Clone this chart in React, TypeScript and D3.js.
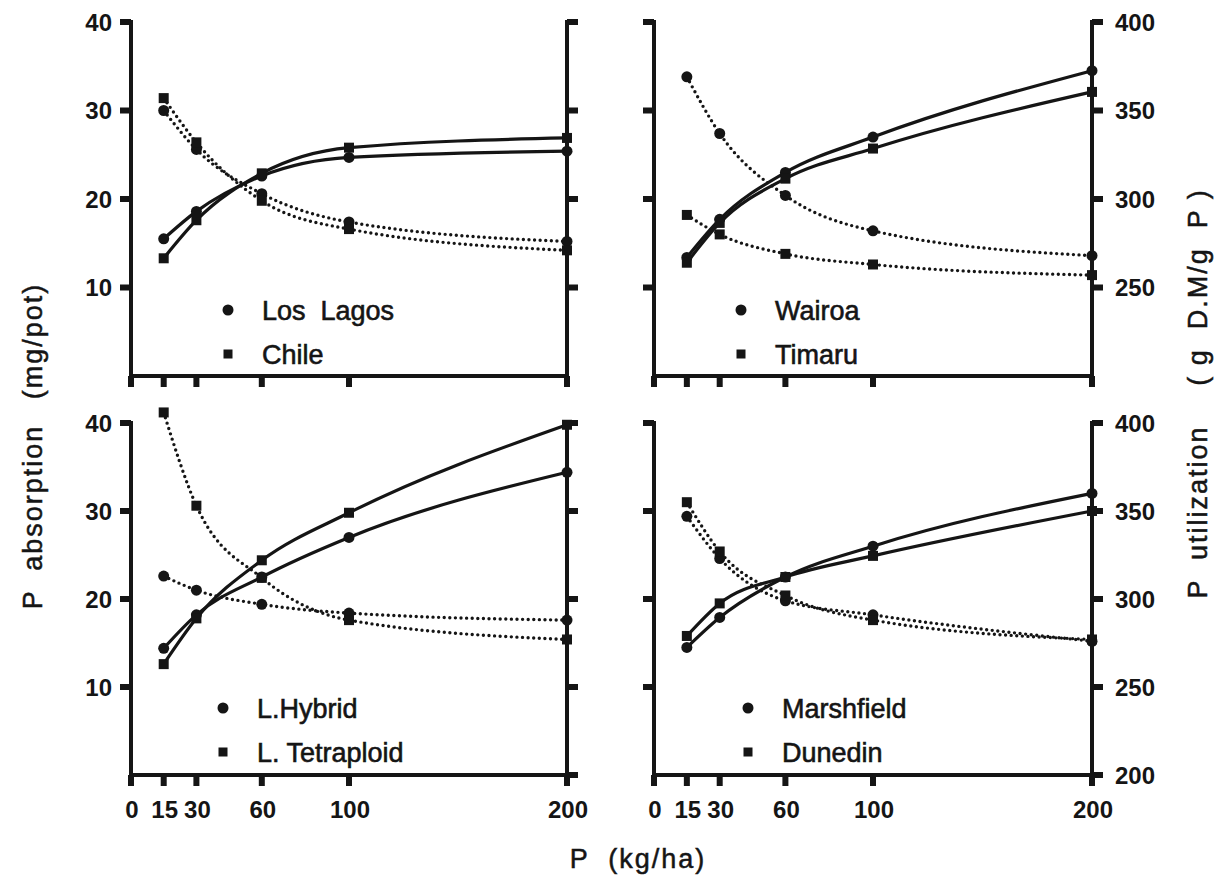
import * as d3 from 'd3';

// P rates applied (kg/ha)
const doses = [15, 30, 60, 100, 200];
const xTicks = [0, 15, 30, 60, 100, 200];
const absTicks = [10, 20, 30, 40];
const utilTicks = [250, 300, 350, 400];
const utilTicksBottom = [200, 250, 300, 350, 400];

// P absorption (mg/pot) - solid lines, left axis
const losLagosAbs = [15.5, 18.6, 22.6, 24.7, 25.4];
const chileAbs = [13.3, 17.6, 22.9, 25.8, 26.9];
const wairoaAbs = [13.4, 17.7, 23.0, 27.0, 34.5];
const timaruAbs = [12.8, 17.3, 22.3, 25.7, 32.1];
const hybridAbs = [14.4, 18.2, 22.5, 27.0, 34.4];
const tetraploidAbs = [12.6, 17.8, 24.4, 29.8, 39.8];
const marshfieldAbs = [14.5, 17.9, 22.5, 26.0, 32.0];
const dunedinAbs = [15.8, 19.5, 22.5, 24.9, 30.0];

// P utilization (g D.M/g P) - dotted lines, right axis
const losLagosUtil = [350, 328, 303, 287, 276];
const chileUtil = [357, 332, 299, 283, 271];
const wairoaUtil = [369, 337, 302, 282, 268];
const timaruUtil = [291, 280, 269, 263, 257];
const hybridUtil = [313, 305, 297, 292, 288];
const tetraploidUtil = [406, 353, 312, 288, 277];
const marshfieldUtil = [347, 323, 299, 291, 276];
const dunedinUtil = [355, 327, 302, 288, 277];

const panelNames = [
  ['Los  Lagos', 'Chile'],
  ['Wairoa', 'Timaru'],
  ['L.Hybrid', 'L. Tetraploid'],
  ['Marshfield', 'Dunedin'],
];

const INK = '#151515';
const FONT = '"Liberation Sans", Arial, sans-serif';

type PanelProps = {
  xr: [number, number];
  yr: [number, number];
  circleAbs: number[];
  squareAbs: number[];
  circleUtil: number[];
  squareUtil: number[];
  names: string[];
  legend: [number, number];
  leftLabels: boolean;
  rightLabels: boolean;
  xLabels: boolean;
  rTicks: number[];
};

function Panel(p: PanelProps) {
  const x = d3.scaleLinear().domain([0, 200]).range(p.xr);
  const yAbs = d3.scaleLinear().domain([0, 40]).range(p.yr);
  const yUtil = d3.scaleLinear().domain([200, 400]).range(p.yr);
  const [x0, x1] = p.xr;
  const [yBot, yTop] = p.yr;

  const absLine = d3.line<number>()
    .x((d, i) => x(doses[i]))
    .y(d => yAbs(d))
    .curve(d3.curveMonotoneX);
  const utilLine = d3.line<number>()
    .x((d, i) => x(doses[i]))
    .y(d => yUtil(d))
    .curve(d3.curveMonotoneX);

  const circles = (vals: number[], y: (v: number) => number) =>
    vals.map((v, i) => <circle key={i} cx={x(doses[i])} cy={y(v)} r={5.5} fill={INK} />);
  const squares = (vals: number[], y: (v: number) => number) =>
    vals.map((v, i) => <rect key={i} x={x(doses[i]) - 5} y={y(v) - 5} width={10} height={10} fill={INK} />);

  const tickText = { fontSize: 24, fontWeight: 'bold', fontFamily: FONT, fill: INK } as const;
  const legendText = {
    fontSize: 27, fontFamily: FONT, fill: INK, stroke: INK, strokeWidth: 0.6,
    style: { whiteSpace: 'pre' as const },
  };

  return (
    <g>
      {/* axes */}
      <line x1={x0} x2={x0} y1={yTop - 2} y2={yBot + 2} stroke={INK} strokeWidth={4} />
      <line x1={x1} x2={x1} y1={yTop - 2} y2={yBot + 2} stroke={INK} strokeWidth={4} />
      <line x1={x0} x2={x1} y1={yBot} y2={yBot} stroke={INK} strokeWidth={4} />
      {absTicks.map(t => (
        <rect key={'l' + t} x={x0 - 11} y={yAbs(t) - 3} width={11} height={6} fill={INK} />
      ))}
      {p.rTicks.map(t => (
        <rect key={'r' + t} x={x1} y={yUtil(t) - 3} width={11} height={6} fill={INK} />
      ))}
      {xTicks.map(t => (
        <rect key={'x' + t} x={x(t) - 3} y={yBot} width={6} height={11} fill={INK} />
      ))}
      {p.leftLabels && absTicks.map(t => (
        <text key={'ll' + t} x={x0 - 19} y={yAbs(t) + 8.5} textAnchor="end" {...tickText}>{t}</text>
      ))}
      {p.rightLabels && p.rTicks.map(t => (
        <text key={'rl' + t} x={x1 + 23} y={yUtil(t) + 8.5} textAnchor="start" {...tickText}>{t}</text>
      ))}
      {p.xLabels && xTicks.map(t => (
        <text key={'xl' + t} x={x(t) + 1} y={818} textAnchor="middle" {...tickText}>{t}</text>
      ))}

      {/* utilization, dotted */}
      <path d={utilLine(p.circleUtil) || ''} fill="none" stroke={INK} strokeWidth={3.4}
        strokeDasharray="0 5.6" strokeLinecap="round" />
      <path d={utilLine(p.squareUtil) || ''} fill="none" stroke={INK} strokeWidth={3.4}
        strokeDasharray="0 5.6" strokeLinecap="round" />
      {circles(p.circleUtil, yUtil)}
      {squares(p.squareUtil, yUtil)}

      {/* absorption, solid */}
      <path d={absLine(p.circleAbs) || ''} fill="none" stroke={INK} strokeWidth={3.2} />
      <path d={absLine(p.squareAbs) || ''} fill="none" stroke={INK} strokeWidth={3.2} />
      {circles(p.circleAbs, yAbs)}
      {squares(p.squareAbs, yAbs)}

      {/* legend */}
      <circle cx={p.legend[0]} cy={p.legend[1]} r={5.5} fill={INK} />
      <rect x={p.legend[0] - 4.5} y={p.legend[1] + 44 - 4.5} width={9} height={9} fill={INK} />
      <text x={p.legend[0] + 34} y={p.legend[1] + 10} {...legendText}>{p.names[0]}</text>
      <text x={p.legend[0] + 34} y={p.legend[1] + 54} {...legendText}>{p.names[1]}</text>
    </g>
  );
}

export default function App() {
  const leftX: [number, number] = [131, 567];
  const rightX: [number, number] = [654, 1092];
  const topY: [number, number] = [376, 22];
  const botY: [number, number] = [775, 423];

  const titleText = {
    fontSize: 27, letterSpacing: 2, fontFamily: FONT, fill: INK, stroke: INK, strokeWidth: 0.5,
    textAnchor: 'middle' as const, style: { whiteSpace: 'pre' as const },
  };

  return (
    <svg width={1218} height={882} viewBox="0 0 1218 882"
      style={{ position: 'absolute', left: 0, top: 0, background: '#fff' }}>
      <rect width={1218} height={882} fill="#fff" />
      <Panel xr={leftX} yr={topY} circleAbs={losLagosAbs} squareAbs={chileAbs}
        circleUtil={losLagosUtil} squareUtil={chileUtil} names={panelNames[0]}
        legend={[228, 310]} leftLabels rightLabels={false} xLabels={false} rTicks={utilTicks} />
      <Panel xr={rightX} yr={topY} circleAbs={wairoaAbs} squareAbs={timaruAbs}
        circleUtil={wairoaUtil} squareUtil={timaruUtil} names={panelNames[1]}
        legend={[741, 310]} leftLabels={false} rightLabels xLabels={false} rTicks={utilTicks} />
      <Panel xr={leftX} yr={botY} circleAbs={hybridAbs} squareAbs={tetraploidAbs}
        circleUtil={hybridUtil} squareUtil={tetraploidUtil} names={panelNames[2]}
        legend={[223, 708]} leftLabels rightLabels={false} xLabels rTicks={utilTicksBottom} />
      <Panel xr={rightX} yr={botY} circleAbs={marshfieldAbs} squareAbs={dunedinAbs}
        circleUtil={marshfieldUtil} squareUtil={dunedinUtil} names={panelNames[3]}
        legend={[748, 708]} leftLabels={false} rightLabels xLabels rTicks={utilTicksBottom} />

      {/* axis titles */}
      <text transform="translate(42,341) rotate(-90)" {...titleText}>(mg/pot)</text>
      <text transform="translate(42,517) rotate(-90)" {...titleText}>P  absorption</text>
      <text transform="translate(1207,287) rotate(-90)" {...titleText}>( g  D.M/g  P )</text>
      <text transform="translate(1207,512) rotate(-90)" {...titleText}>P  utilization</text>
      <text x={638} y={868} {...titleText}>P  (kg/ha)</text>
    </svg>
  );
}
